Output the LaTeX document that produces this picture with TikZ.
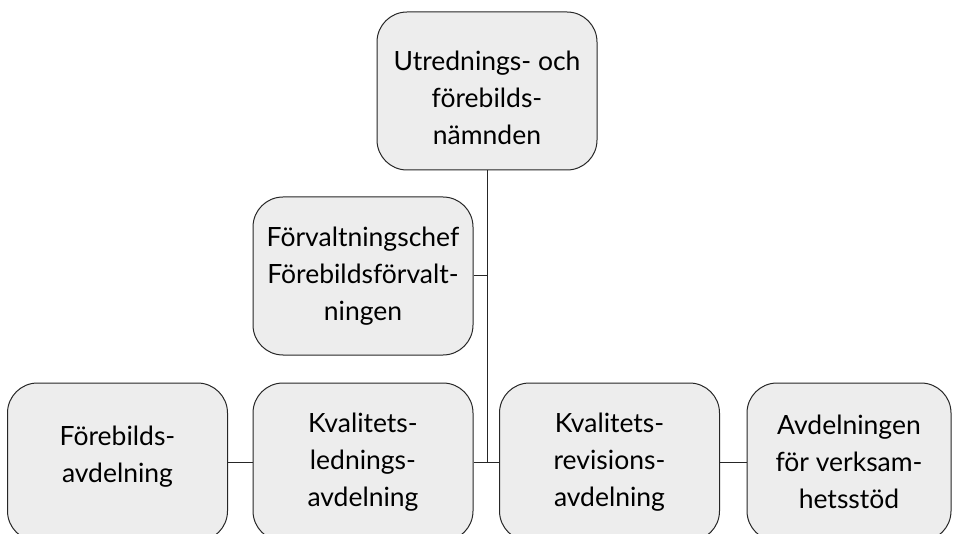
\documentclass[tikz,border=0pt]{standalone}
\usepackage{fontspec}
\setmainfont{Lato}
\begin{document}
\begin{tikzpicture}[x=1pt,y=-1pt,
  orgbox/.style={draw=black!85, line width=1pt, fill=black!7, rounded corners=30pt,
    minimum width=220pt, minimum height=158pt, align=center, inner sep=0pt,
    font=\fontsize{26.5}{37}\selectfont},
  link/.style={draw=black!85, line width=1pt}]
  \useasboundingbox (0,0) rectangle (955,534);
  \clip (0,0) rectangle (955,534);
  % top of the hierarchy
  \node[orgbox] (board) at (487,91) {\mbox{}\\[-4pt]Utrednings- och\\förebilds-\\nämnden};
  \node[orgbox] (chief) at (363,276) {Förvaltningschef\\Förebildsförvalt-\\ningen};
  % departments
  \node[orgbox] (dep1) at (117.5,462) {Förebilds-\\avdelning\\[-22pt]\mbox{}};
  \node[orgbox] (dep2) at (363,462) {Kvalitets-\\lednings-\\avdelning};
  \node[orgbox] (dep3) at (609.5,462) {Kvalitets-\\revisions-\\avdelning};
  \node[orgbox, minimum width=204pt] (dep4) at (849,462) {Avdelningen\\för verksam-\\hetsstöd};
  % connectors
  \coordinate (trunk) at (board.south |- dep2.east);
  \draw[link] (board.south) -- (trunk);
  \draw[link] (chief.east) -- (chief.east -| board.south);
  \draw[link] (dep2.east) -- (dep3.west);
  \draw[link] (dep1.east) -- (dep2.west);
  \draw[link] (dep3.east) -- (dep4.west);
\end{tikzpicture}
\end{document}
